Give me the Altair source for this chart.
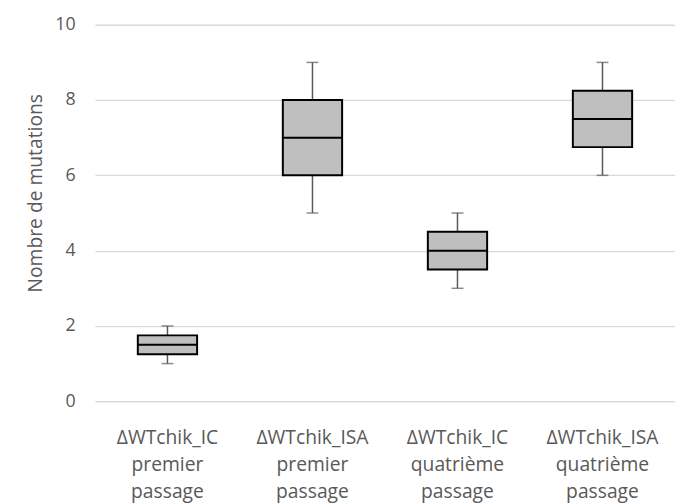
import altair as alt
import pandas as pd

categories = ["ΔWTchik_IC|premier|passage", "ΔWTchik_ISA|premier|passage",
              "ΔWTchik_IC|quatrième|passage", "ΔWTchik_ISA|quatrième|passage"]
whisker_low = [1, 5, 3, 6]
q1 = [1.25, 6, 3.5, 6.75]
median = [1.5, 7, 4, 7.5]
q3 = [1.75, 8, 4.5, 8.25]
whisker_high = [2, 9, 5, 9]

df = pd.DataFrame({"cat": categories, "lo": whisker_low, "q1": q1, "med": median,
                   "q3": q3, "hi": whisker_high})

FONT = "Open Sans"
x = alt.X("cat:N", sort=categories, title=None,
          scale=alt.Scale(paddingInner=0, paddingOuter=0),
          axis=alt.Axis(labelExpr="split(datum.label, '|')", labelAngle=0,
                        labelFont=FONT, labelFontSize=19.5, labelColor="#595959",
                        labelLineHeight=27, labelPadding=28, ticks=False,
                        domain=False, grid=False))
yscale = alt.Scale(domain=[0, 10])

base = alt.Chart(df)

whisk = base.mark_rule(color="#595959", strokeWidth=1.5).encode(
    x=x,
    y=alt.Y("lo:Q", scale=yscale, title="Nombre de mutations",
            axis=alt.Axis(values=[0, 2, 4, 6, 8, 10], grid=True, gridColor="#d9d9d9",
                          gridWidth=1.3, domain=False, ticks=False,
                          labelFont=FONT, labelFontSize=18, labelColor="#595959",
                          labelPadding=20, titleFont=FONT, titleFontSize=19.5,
                          titleFontWeight="normal", titleColor="#595959",
                          titlePadding=10, titleY=170)),
    y2="hi:Q")

cap_lo = base.mark_tick(color="#595959", thickness=1.5, size=12).encode(x=x, y="lo:Q")
cap_hi = base.mark_tick(color="#595959", thickness=1.5, size=12).encode(x=x, y="hi:Q")

box = base.mark_bar(color="#bfbfbf", stroke="#000000", strokeWidth=2, size=60).encode(
    x=x, y="q1:Q", y2="q3:Q")

med = base.mark_tick(color="#000000", thickness=2, size=60, opacity=1).encode(x=x, y="med:Q")

chart = alt.layer(whisk, cap_lo, cap_hi, box, med).properties(
    width=587, height=381,
    background="white",
    autosize=alt.AutoSizeParams(type="none"),
    padding={"left": 88, "top": 14, "right": 0, "bottom": 100},
).configure_view(stroke=None).configure_axis(domain=False, ticks=False)

chart.save("out.html", embed_options={"renderer": "svg", "actions": False})
